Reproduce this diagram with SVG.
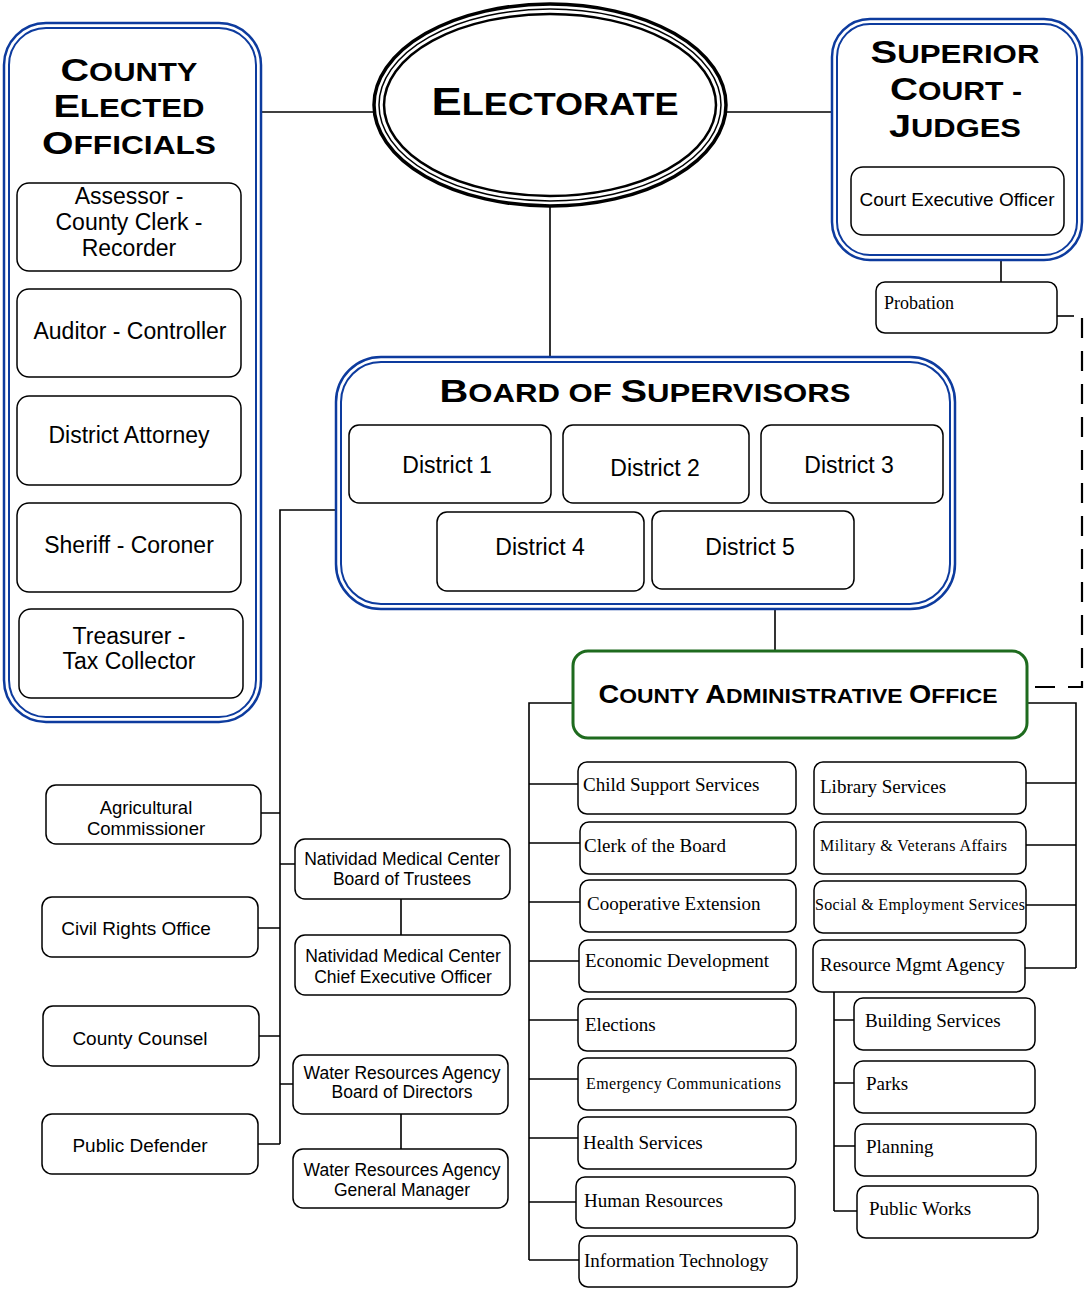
<svg xmlns="http://www.w3.org/2000/svg" width="1084" height="1289" viewBox="0 0 1084 1289">
<style>
.bo{fill:none;stroke:#0d3b9e;stroke-width:2.5}
.bi{fill:none;stroke:#0d3b9e;stroke-width:2}
.box{fill:#fff;stroke:#000;stroke-width:1.5}
.ln{fill:none;stroke:#000;stroke-width:1.6}
.dash{fill:none;stroke:#000;stroke-width:2.2;stroke-dasharray:20 13}
.ttl{font-family:"Liberation Sans",Arial,sans-serif;font-weight:bold;font-size:32px;fill:#000}
.sc{font-size:25px}
.sans{font-family:"Liberation Sans",Arial,sans-serif;fill:#000}
.serif{font-family:"Liberation Serif","Times New Roman",serif;font-size:19px;fill:#000}
.ds{font-size:23px}
.m{text-anchor:middle}
</style>
<g id="connectors">
<path class="ln" d="M261,112 H373"/>
<path class="ln" d="M727,112 H832"/>
<path class="ln" d="M550,207 V358"/>
<path class="ln" d="M1001,260 V282"/>
<path class="ln" d="M1057,316 H1074"/>
<path class="dash" d="M1082,318 V687 H1028"/>
<path class="ln" d="M336,510 H280 V1144"/>
<path class="ln" d="M261,813 H280 M280,864 H295 M258,928 H280 M258,1036 H280 M280,1084 H293 M258,1144 H280"/>
<path class="ln" d="M401,899 V935 M401,1114 V1149"/>
<path class="ln" d="M775,609 V651"/>
<path class="ln" d="M573,703 H529 V1260"/>
<path class="ln" d="M529,784 H578 M529,843 H580 M529,902 H580 M529,961 H579 M529,1020 H578 M529,1079 H578 M529,1138 H578 M529,1202 H576 M529,1260 H579"/>
<path class="ln" d="M1027,703 H1076 V968"/>
<path class="ln" d="M1026,783 H1076 M1026,845 H1076 M1026,905 H1076 M1025,968 H1076"/>
<path class="ln" d="M834,992 V1211 M834,1020 H854 M834,1083 H854 M834,1146 H855 M834,1211 H857"/>
</g>
<g id="county-elected">
<rect class="bo" x="4" y="23" width="257" height="699" rx="42"/>
<rect class="bi" x="9" y="28" width="247" height="689" rx="37"/>
<text class="ttl m" x="129" y="81" textLength="137" lengthAdjust="spacingAndGlyphs">C<tspan class="sc">OUNTY</tspan></text>
<text class="ttl m" x="129" y="117" textLength="151" lengthAdjust="spacingAndGlyphs">E<tspan class="sc">LECTED</tspan></text>
<text class="ttl m" x="129" y="154" textLength="174" lengthAdjust="spacingAndGlyphs">O<tspan class="sc">FFICIALS</tspan></text>
</g>
<g id="assessor"><rect class="box" x="17" y="183" width="224" height="88" rx="12"/><text class="sans ds m" x="129" y="204">Assessor -</text><text class="sans ds m" x="129" y="230">County Clerk -</text><text class="sans ds m" x="129" y="256">Recorder</text></g>
<g id="auditor"><rect class="box" x="17" y="289" width="224" height="88" rx="12"/><text class="sans ds m" x="130" y="339">Auditor - Controller</text></g>
<g id="da"><rect class="box" x="17" y="396" width="224" height="89" rx="12"/><text class="sans ds m" x="129" y="443">District Attorney</text></g>
<g id="sheriff"><rect class="box" x="17" y="503" width="224" height="89" rx="12"/><text class="sans ds m" x="129" y="553">Sheriff - Coroner</text></g>
<g id="treasurer"><rect class="box" x="19" y="609" width="224" height="89" rx="12"/><text class="sans ds m" x="129" y="644">Treasurer -</text><text class="sans ds m" x="129" y="669">Tax Collector</text></g>
<g id="electorate">
<ellipse cx="550" cy="105" rx="176" ry="101" fill="#fff" stroke="#000" stroke-width="3.5"/>
<ellipse cx="550" cy="105" rx="171" ry="96" fill="none" stroke="#000" stroke-width="1.5"/>
<ellipse cx="550" cy="105" rx="166" ry="91" fill="none" stroke="#000" stroke-width="2.5"/>
<text class="ttl m" x="555" y="115" textLength="247" lengthAdjust="spacingAndGlyphs" style="font-size:39px">E<tspan style="font-size:31px">LECTORATE</tspan></text>
</g>
<g id="superior-court">
<rect class="bo" x="832" y="19" width="250" height="241" rx="38"/>
<rect class="bi" x="837" y="24" width="240" height="231" rx="33"/>
<text class="ttl m" x="955" y="63" textLength="169" lengthAdjust="spacingAndGlyphs">S<tspan class="sc">UPERIOR</tspan></text>
<text class="ttl m" x="956" y="100" textLength="132" lengthAdjust="spacingAndGlyphs">C<tspan class="sc">OURT -</tspan></text>
<text class="ttl m" x="955" y="137" textLength="132" lengthAdjust="spacingAndGlyphs">J<tspan class="sc">UDGES</tspan></text>
</g>
<g id="court-exec"><rect class="box" x="851" y="167" width="213" height="68" rx="12"/><text class="sans m" x="957" y="206" style="font-size:19px">Court Executive Officer</text></g>
<g id="probation"><rect class="box" x="876" y="282" width="181" height="51" rx="9"/><text class="serif" x="884" y="309" style="font-size:18px">Probation</text></g>
<g id="board">
<rect class="bo" x="336" y="357" width="619" height="252" rx="45"/>
<rect class="bi" x="341" y="362" width="609" height="242" rx="40"/>
<text class="ttl m" x="645" y="402" textLength="411" lengthAdjust="spacingAndGlyphs">B<tspan class="sc">OARD OF </tspan>S<tspan class="sc">UPERVISORS</tspan></text>
</g>
<g id="district1"><rect class="box" x="349" y="425" width="202" height="78" rx="10"/><text class="sans ds m" x="447" y="473">District 1</text></g>
<g id="district2"><rect class="box" x="563" y="425" width="186" height="78" rx="10"/><text class="sans ds m" x="655" y="476">District 2</text></g>
<g id="district3"><rect class="box" x="761" y="425" width="182" height="78" rx="10"/><text class="sans ds m" x="849" y="473">District 3</text></g>
<g id="district4"><rect class="box" x="437" y="512" width="207" height="79" rx="10"/><text class="sans ds m" x="540" y="555">District 4</text></g>
<g id="district5"><rect class="box" x="652" y="511" width="202" height="78" rx="10"/><text class="sans ds m" x="750" y="555">District 5</text></g>
<g id="cao">
<rect x="573" y="651" width="454" height="87" rx="15" fill="#fff" stroke="#1e6b1e" stroke-width="3"/>
<text class="ttl m" x="798" y="703" textLength="399" lengthAdjust="spacingAndGlyphs" style="font-size:25px">C<tspan style="font-size:20px">OUNTY </tspan>A<tspan style="font-size:20px">DMINISTRATIVE </tspan>O<tspan style="font-size:20px">FFICE</tspan></text>
</g>
<g id="agri"><rect class="box" x="46" y="785" width="215" height="59" rx="10"/><text class="sans m" x="146" y="814" style="font-size:18.5px">Agricultural</text><text class="sans m" x="146" y="835" style="font-size:18.5px">Commissioner</text></g>
<g id="civil"><rect class="box" x="42" y="897" width="216" height="60" rx="10"/><text class="sans m" x="136" y="935" style="font-size:19px">Civil Rights Office</text></g>
<g id="counsel"><rect class="box" x="43" y="1006" width="216" height="60" rx="10"/><text class="sans m" x="140" y="1045" style="font-size:19px">County Counsel</text></g>
<g id="defender"><rect class="box" x="42" y="1114" width="216" height="60" rx="10"/><text class="sans m" x="140" y="1152" style="font-size:19px">Public Defender</text></g>
<g id="nmc-board"><rect class="box" x="295" y="839" width="215" height="60" rx="10"/><text class="sans m" x="402" y="865" style="font-size:17.5px">Natividad Medical Center</text><text class="sans m" x="402" y="885" style="font-size:17.5px">Board of Trustees</text></g>
<g id="nmc-ceo"><rect class="box" x="295" y="935" width="215" height="60" rx="10"/><text class="sans m" x="403" y="962" style="font-size:17.5px">Natividad Medical Center</text><text class="sans m" x="403" y="983" style="font-size:17.5px">Chief Executive Officer</text></g>
<g id="wra-board"><rect class="box" x="293" y="1055" width="215" height="59" rx="10"/><text class="sans m" x="402" y="1079" style="font-size:17.5px">Water Resources Agency</text><text class="sans m" x="402" y="1098" style="font-size:17.5px">Board of Directors</text></g>
<g id="wra-gm"><rect class="box" x="293" y="1149" width="215" height="59" rx="10"/><text class="sans m" x="402" y="1176" style="font-size:17.5px">Water Resources Agency</text><text class="sans m" x="402" y="1196" style="font-size:17.5px">General Manager</text></g>
<g id="child"><rect class="box" x="578" y="762" width="218" height="52" rx="9"/><text class="serif" x="583" y="791">Child Support Services</text></g>
<g id="clerk"><rect class="box" x="580" y="822" width="216" height="52" rx="9"/><text class="serif" x="584" y="852">Clerk of the Board</text></g>
<g id="coop"><rect class="box" x="580" y="880" width="216" height="52" rx="9"/><text class="serif" x="587" y="910">Cooperative Extension</text></g>
<g id="econ"><rect class="box" x="579" y="940" width="217" height="52" rx="9"/><text class="serif" x="585" y="967">Economic Development</text></g>
<g id="elections"><rect class="box" x="578" y="999" width="218" height="52" rx="9"/><text class="serif" x="585" y="1031">Elections</text></g>
<g id="emergency"><rect class="box" x="578" y="1058" width="218" height="52" rx="9"/><text class="serif" x="586" y="1089" style="font-size:16px" textLength="195">Emergency Communications</text></g>
<g id="health"><rect class="box" x="578" y="1117" width="218" height="52" rx="9"/><text class="serif" x="583" y="1149">Health Services</text></g>
<g id="hr"><rect class="box" x="576" y="1177" width="219" height="51" rx="9"/><text class="serif" x="584" y="1207">Human Resources</text></g>
<g id="it"><rect class="box" x="579" y="1236" width="218" height="51" rx="9"/><text class="serif" x="584" y="1267">Information Technology</text></g>
<g id="library"><rect class="box" x="814" y="762" width="212" height="52" rx="9"/><text class="serif" x="820" y="793">Library Services</text></g>
<g id="military"><rect class="box" x="814" y="822" width="212" height="52" rx="9"/><text class="serif" x="820" y="851" style="font-size:16px" textLength="187">Military &amp; Veterans Affairs</text></g>
<g id="social"><rect class="box" x="814" y="881" width="212" height="52" rx="9"/><text class="serif" x="815" y="910" style="font-size:16px" textLength="210">Social &amp; Employment Services</text></g>
<g id="rma"><rect class="box" x="813" y="940" width="212" height="52" rx="9"/><text class="serif" x="820" y="971">Resource Mgmt Agency</text></g>
<g id="building"><rect class="box" x="854" y="998" width="181" height="52" rx="9"/><text class="serif" x="865" y="1027">Building Services</text></g>
<g id="parks"><rect class="box" x="854" y="1061" width="181" height="52" rx="9"/><text class="serif" x="866" y="1090">Parks</text></g>
<g id="planning"><rect class="box" x="855" y="1124" width="181" height="52" rx="9"/><text class="serif" x="866" y="1153">Planning</text></g>
<g id="publicworks"><rect class="box" x="857" y="1186" width="181" height="52" rx="9"/><text class="serif" x="869" y="1215">Public Works</text></g>
</svg>
